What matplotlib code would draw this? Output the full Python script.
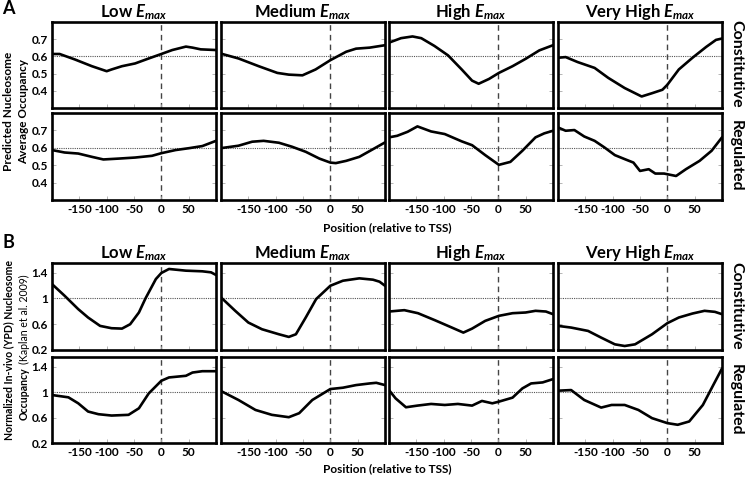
import matplotlib
matplotlib.use("Agg")
import matplotlib.pyplot as plt

plt.rcParams['font.family'] = ['Lato', 'DejaVu Sans']
plt.rcParams['mathtext.fontset'] = 'custom'
plt.rcParams['mathtext.it'] = 'Lato:italic:bold'
plt.rcParams['mathtext.rm'] = 'Lato:bold'
plt.rcParams['mathtext.bf'] = 'Lato:bold'

# ---------------- data ----------------
col_titles = ["Low $E_{max}$", "Medium $E_{max}$", "High $E_{max}$", "Very High $E_{max}$"]
row_labels = ["Constitutive", "Regulated"]
xticks = [-150, -100, -50, 0, 50]

# Panel A: predicted occupancy, constitutive row
a_con_low_x = [-200, -186, -158, -127, -100, -91, -72, -48, -23, 0, 20, 45, 57, 72, 100]
a_con_low_y = [0.614, 0.614, 0.582, 0.543, 0.514, 0.524, 0.543, 0.559, 0.588, 0.614, 0.637, 0.657, 0.651, 0.641, 0.637]
a_con_med_x = [-200, -168, -131, -97, -76, -51, -27, 0, 29, 47, 72, 100]
a_con_med_y = [0.616, 0.588, 0.543, 0.504, 0.494, 0.490, 0.524, 0.578, 0.627, 0.645, 0.651, 0.665]
a_con_high_x = [-200, -178, -157, -141, -117, -92, -67, -48, -36, -17, 1, 26, 50, 75, 100]
a_con_high_y = [0.680, 0.706, 0.716, 0.706, 0.661, 0.606, 0.524, 0.459, 0.441, 0.469, 0.504, 0.543, 0.586, 0.635, 0.665]
a_con_vhigh_x = [-200, -186, -164, -133, -108, -78, -47, -28, -9, 0, 21, 46, 71, 89, 100]
a_con_vhigh_y = [0.592, 0.596, 0.567, 0.533, 0.475, 0.416, 0.367, 0.386, 0.406, 0.435, 0.524, 0.592, 0.655, 0.696, 0.704]

# Panel A: predicted occupancy, regulated row
a_reg_low_x = [-200, -177, -152, -127, -106, -78, -48, -17, 0, 26, 51, 75, 100]
a_reg_low_y = [0.587, 0.573, 0.567, 0.548, 0.533, 0.538, 0.544, 0.554, 0.569, 0.587, 0.598, 0.610, 0.640]
a_reg_med_x = [-200, -168, -143, -122, -94, -70, -45, -20, 0, 10, 29, 53, 78, 100]
a_reg_med_y = [0.598, 0.612, 0.635, 0.640, 0.629, 0.606, 0.577, 0.538, 0.515, 0.512, 0.525, 0.548, 0.592, 0.631]
a_reg_high_x = [-200, -185, -166, -148, -123, -98, -67, -48, -24, 1, 22, 44, 68, 84, 100]
a_reg_high_y = [0.660, 0.669, 0.692, 0.723, 0.694, 0.679, 0.637, 0.615, 0.558, 0.502, 0.519, 0.583, 0.660, 0.683, 0.698]
a_reg_vhigh_x = [-200, -186, -170, -152, -133, -115, -96, -78, -62, -50, -34, -22, -6, 16, 34, 59, 81, 100]
a_reg_vhigh_y = [0.717, 0.698, 0.702, 0.665, 0.640, 0.602, 0.558, 0.535, 0.515, 0.467, 0.477, 0.452, 0.452, 0.438, 0.477, 0.525, 0.583, 0.660]

# Panel B: in-vivo occupancy, constitutive row
b_con_low_x = [-200, -177, -152, -134, -112, -91, -72, -57, -41, -29, -10, 0, 14, 45, 75, 91, 100]
b_con_low_y = [1.223, 1.042, 0.834, 0.704, 0.574, 0.538, 0.532, 0.600, 0.782, 1.000, 1.301, 1.395, 1.457, 1.431, 1.421, 1.405, 1.364]
b_con_med_x = [-200, -174, -150, -125, -94, -76, -63, -45, -26, 0, 23, 53, 78, 90, 100]
b_con_med_y = [1.016, 0.808, 0.626, 0.522, 0.444, 0.403, 0.444, 0.704, 0.990, 1.197, 1.275, 1.312, 1.291, 1.260, 1.197]
b_con_high_x = [-200, -172, -147, -116, -85, -64, -48, -24, 1, 26, 50, 68, 87, 100]
b_con_high_y = [0.797, 0.818, 0.771, 0.662, 0.548, 0.470, 0.532, 0.652, 0.730, 0.771, 0.782, 0.808, 0.797, 0.756]
b_con_vhigh_x = [-200, -176, -145, -121, -96, -78, -59, -28, 0, 21, 46, 68, 87, 100]
b_con_vhigh_y = [0.574, 0.548, 0.496, 0.392, 0.288, 0.262, 0.288, 0.444, 0.616, 0.704, 0.766, 0.808, 0.792, 0.756]

# Panel B: in-vivo occupancy, regulated row
b_reg_low_x = [-200, -170, -152, -134, -115, -91, -60, -41, -23, 0, 14, 45, 57, 75, 100]
b_reg_low_y = [0.953, 0.917, 0.823, 0.694, 0.652, 0.631, 0.642, 0.745, 0.979, 1.177, 1.229, 1.255, 1.306, 1.327, 1.327]
b_reg_med_x = [-200, -168, -137, -107, -76, -57, -33, 0, 23, 47, 72, 84, 100]
b_reg_med_y = [1.016, 0.875, 0.719, 0.642, 0.605, 0.668, 0.875, 1.047, 1.068, 1.109, 1.135, 1.145, 1.109]
b_reg_high_x = [-200, -188, -169, -148, -123, -98, -74, -48, -30, -11, 1, 26, 44, 60, 81, 100]
b_reg_high_y = [1.031, 0.901, 0.761, 0.787, 0.813, 0.797, 0.813, 0.787, 0.860, 0.823, 0.849, 0.912, 1.057, 1.135, 1.151, 1.203]
b_reg_vhigh_x = [-200, -176, -152, -121, -102, -78, -53, -28, 0, 19, 40, 65, 84, 100]
b_reg_vhigh_y = [1.021, 1.031, 0.875, 0.756, 0.797, 0.797, 0.719, 0.590, 0.512, 0.486, 0.538, 0.797, 1.109, 1.369]

panel_a = [
    [(a_con_low_x, a_con_low_y), (a_con_med_x, a_con_med_y), (a_con_high_x, a_con_high_y), (a_con_vhigh_x, a_con_vhigh_y)],
    [(a_reg_low_x, a_reg_low_y), (a_reg_med_x, a_reg_med_y), (a_reg_high_x, a_reg_high_y), (a_reg_vhigh_x, a_reg_vhigh_y)],
]
panel_b = [
    [(b_con_low_x, b_con_low_y), (b_con_med_x, b_con_med_y), (b_con_high_x, b_con_high_y), (b_con_vhigh_x, b_con_vhigh_y)],
    [(b_reg_low_x, b_reg_low_y), (b_reg_med_x, b_reg_med_y), (b_reg_high_x, b_reg_high_y), (b_reg_vhigh_x, b_reg_vhigh_y)],
]
a_yticks = [0.4, 0.5, 0.6, 0.7]
a_yticklabels = ["0.4", "0.5", "0.6", "0.7"]
b_yticks = [0.2, 0.6, 1.0, 1.4]
b_yticklabels = ["0.2", "0.6", "1", "1.4"]

# ---------------- layout ----------------
W, H = 745, 478
fig = plt.figure(figsize=(W / 100, H / 100), dpi=100)

col_left = [52, 221, 389, 558]
col_w = 164


def px_axes(left, top, w, h):
    return fig.add_axes([left / W, 1 - (top + h) / H, w / W, h / H])


def draw_block(data, row_tops, row_h, ylim, ref, yticks, yticklabels):
    for r, (top, h) in enumerate(zip(row_tops, row_h)):
        for c in range(4):
            ax = px_axes(col_left[c], top, col_w, h)
            x, y = data[r][c]
            ax.axhline(ref, color='#555555', lw=0.8, ls=(0, (1, 1)), zorder=1)
            ax.axvline(0, color='#444444', lw=1.0, ls=(0, (4, 3)), zorder=1)
            ax.plot(x, y, color='black', lw=1.9, solid_capstyle='round',
                    solid_joinstyle='round', zorder=3)
            ax.set_xlim(-200, 100)
            ax.set_ylim(*ylim)
            ax.set_xticks(xticks)
            ax.set_yticks(yticks)
            ax.tick_params(direction='in', length=3, width=0.6, color='#aaaaaa',
                           top=False, right=True, labelsize=8.5, pad=3)
            for s in ax.spines.values():
                s.set_linewidth(1.9)
                s.set_color('black')
            if c == 0:
                ax.set_yticklabels(yticklabels, fontweight='bold')
            else:
                ax.set_yticklabels([])
            if r == 1:
                ax.set_xticklabels([str(t) for t in xticks], fontweight='bold')
            else:
                ax.set_xticklabels([])


draw_block(panel_a, [22, 113], [86, 87], (0.3, 0.8), 0.6, a_yticks, a_yticklabels)
draw_block(panel_b, [263, 357], [87, 86], (0.2, 1.55), 1.0, b_yticks, b_yticklabels)


def ftext(px, py, s, **kw):
    return fig.text(px / W, 1 - py / H, s, **kw)


# column titles
for c, t in enumerate(col_titles):
    cx = col_left[c] + col_w / 2
    ftext(cx, 12, t, ha='center', va='center', fontsize=12, fontweight='bold')
    ftext(cx, 253, t, ha='center', va='center', fontsize=12, fontweight='bold')

# row labels
row_centers = [64, 156, 306, 400]
for i, yc in enumerate(row_centers):
    ftext(736, yc, row_labels[i % 2], ha='center', va='center', rotation=-90,
          fontsize=11.5, fontweight='bold')

# panel letters
ftext(8, 9, "A", ha='center', va='center', fontsize=13, fontweight='bold')
ftext(8, 242, "B", ha='center', va='center', fontsize=13, fontweight='bold')

# x axis labels
ftext(387, 228, "Position (relative to TSS)", ha='center', va='center', fontsize=8.5, fontweight='bold')
ftext(387, 469, "Position (relative to TSS)", ha='center', va='center', fontsize=8.5, fontweight='bold')

# y labels panel A
ftext(9, 111, "Predicted Nucleosome", ha='center', va='center', rotation=90, fontsize=8.5, fontweight='bold')
ftext(24, 111, "Average Occupancy", ha='center', va='center', rotation=90, fontsize=8.5, fontweight='bold')

# y labels panel B
ftext(9, 350, "Normalized In-vivo (YPD) Nucleosome", ha='center', va='center', rotation=90,
      fontsize=7.6, fontweight='bold')
renderer = fig.canvas.get_renderer()
t_occ = ftext(24, 0, "Occupancy", ha='center', va='bottom', rotation=90, fontsize=7.6, fontweight='bold')
t_kap = ftext(24, 0, "(Kaplan et al. 2009)", ha='center', va='bottom', rotation=90, fontsize=7.6)
h_occ = t_occ.get_window_extent(renderer).height
h_kap = t_kap.get_window_extent(renderer).height
gap = 3
total = h_occ + gap + h_kap
start = 347 + total / 2  # bottom pixel (from top) of the combined line
t_occ.set_position((24 / W, 1 - start / H))
t_kap.set_position((24 / W, 1 - (start - h_occ - gap) / H))

fig.savefig("out.png", dpi=100)
